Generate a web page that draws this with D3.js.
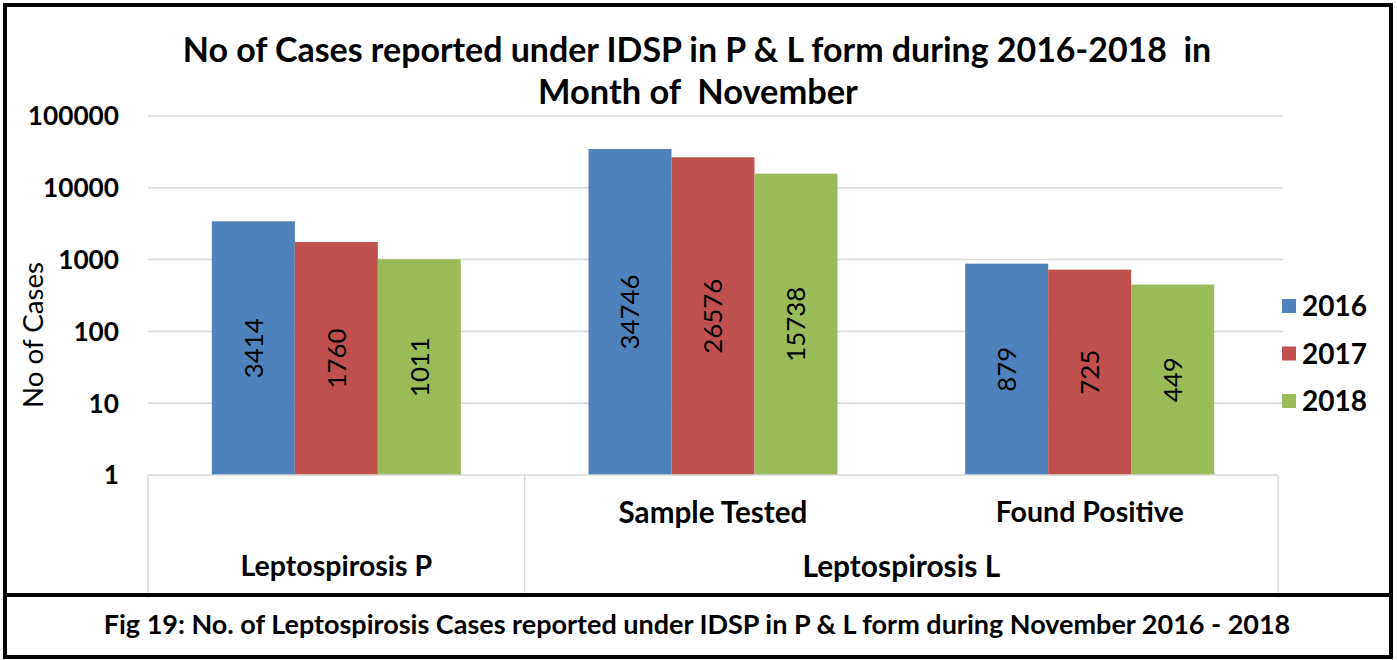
<!DOCTYPE html>
<html>
<head>
<meta charset="utf-8">
<script src="https://cdn.jsdelivr.net/npm/d3@7.9.0/dist/d3.min.js"></script>
<style>
  body { margin: 0; background: #fff; }
  text { font-family: Lato, "Open Sans", sans-serif; fill: #000; }
</style>
</head>
<body>
<div id="chart"></div>
<script>
// data
const categories = ['Leptospirosis P', 'Sample Tested', 'Found Positive'];
const groupLabels = ['', 'Sample Tested', 'Found Positive'];
const topGroups = [
  { name: 'Leptospirosis P', from: 0, to: 1 },
  { name: 'Leptospirosis L', from: 1, to: 3 }
];
const years = ['2016', '2017', '2018'];
const values2016 = [3414, 34746, 879];
const values2017 = [1760, 26576, 725];
const values2018 = [1011, 15738, 449];
const yTicks = [1, 10, 100, 1000, 10000, 100000];
const colors = ['#4f81bd', '#c0504d', '#9bbb59'];

const series = [values2016, values2017, values2018];

const width = 1397;
const height = 660;

const svg = d3.select('#chart')
  .append('svg')
  .attr('width', width)
  .attr('height', height);

// shrink or grow a text so it takes the width seen in the picture
function fit(sel, w) {
  sel.each(function () {
    const len = this.getComputedTextLength();
    const fs = parseFloat(this.getAttribute('font-size'));
    if (len > 0) this.setAttribute('font-size', fs * w / len);
  });
  return sel;
}

// same idea, but by width per character (digits)
function fitPerChar(sel, perChar) {
  sel.each(function () {
    const n = this.textContent.length;
    const len = this.getComputedTextLength();
    const fs = parseFloat(this.getAttribute('font-size'));
    if (len > 0) this.setAttribute('font-size', fs * (perChar * n) / len);
  });
  return sel;
}

// plot area
const plotLeft = 148, plotRight = 1278, plotTop = 116, plotBottom = 475;

const x0 = d3.scaleBand()
  .domain(categories)
  .range([plotLeft, plotRight])
  .paddingInner(0.339)
  .paddingOuter(0.1695);

const x1 = d3.scaleBand()
  .domain(years)
  .range([0, x0.bandwidth()]);

const y = d3.scaleLog()
  .domain([1, 100000])
  .range([plotBottom, plotTop]);

// gridlines
svg.append('g')
  .selectAll('line')
  .data(yTicks.slice(1))
  .join('line')
  .attr('x1', plotLeft)
  .attr('x2', plotRight + 5)
  .attr('y1', d => y(d))
  .attr('y2', d => y(d))
  .attr('stroke', '#d9d9d9')
  .attr('stroke-width', 1.5);

// y tick labels
fitPerChar(svg.append('g')
  .selectAll('text')
  .data(yTicks)
  .join('text')
  .attr('x', 119)
  .attr('y', d => y(d))
  .attr('dy', '0.36em')
  .attr('text-anchor', 'end')
  .attr('font-size', 24)
  .attr('font-weight', 'bold')
  .text(d => d), 15.2);

// y axis title
fit(svg.append('text')
  .attr('transform', 'translate(43,335) rotate(-90)')
  .attr('text-anchor', 'middle')
  .attr('font-size', 24)
  .text('No of Cases'), 146);

// bars
const groups = svg.append('g')
  .selectAll('g')
  .data(categories)
  .join('g')
  .attr('transform', d => `translate(${x0(d)},0)`);

const cells = (d, i) => years.map((yr, j) => ({ yr, j, v: series[j][i] }));

groups.selectAll('rect')
  .data(cells)
  .join('rect')
  .attr('x', d => x1(d.yr))
  .attr('y', d => y(d.v))
  .attr('width', x1.bandwidth())
  .attr('height', d => y(1) - y(d.v))
  .attr('fill', d => colors[d.j]);

fitPerChar(groups.selectAll('text')
  .data(cells)
  .join('text')
  .attr('transform', d => `translate(${x1(d.yr) + x1.bandwidth() / 2},${(y(d.v) + y(1)) / 2}) rotate(-90)`)
  .attr('text-anchor', 'middle')
  .attr('dy', '0.36em')
  .attr('font-size', 26)
  .text(d => d.v), 15);

// category axis
const axisColor = '#d9d9d9';
svg.append('line')
  .attr('x1', plotLeft).attr('x2', plotRight)
  .attr('y1', plotBottom).attr('y2', plotBottom)
  .attr('stroke', axisColor).attr('stroke-width', 1.5);

const step = x0.step();
svg.append('g')
  .selectAll('line')
  .data([0, 1, 3])
  .join('line')
  .attr('x1', k => plotLeft + k * step).attr('x2', k => plotLeft + k * step)
  .attr('y1', plotBottom).attr('y2', 594)
  .attr('stroke', axisColor).attr('stroke-width', 1.5);

const subWidths = [0, 189, 188];
svg.append('g')
  .selectAll('text')
  .data(groupLabels)
  .join('text')
  .attr('x', (d, i) => x0(categories[i]) + x0.bandwidth() / 2)
  .attr('y', 512)
  .attr('dy', '0.36em')
  .attr('text-anchor', 'middle')
  .attr('font-size', 24)
  .attr('font-weight', 'bold')
  .text(d => d)
  .each(function (d, i) {
    if (d) fit(d3.select(this), subWidths[i]);
  });

const topWidths = [192, 198];
svg.append('g')
  .selectAll('text')
  .data(topGroups)
  .join('text')
  .attr('x', d => plotLeft + (d.from + d.to) / 2 * step)
  .attr('y', 566)
  .attr('dy', '0.36em')
  .attr('text-anchor', 'middle')
  .attr('font-size', 24)
  .attr('font-weight', 'bold')
  .text(d => d.name)
  .each(function (d, i) { fit(d3.select(this), topWidths[i]); });

// legend
const legend = svg.append('g')
  .selectAll('g')
  .data(years)
  .join('g')
  .attr('transform', (d, i) => `translate(1282,${306 + i * 47.5})`);

legend.append('rect')
  .attr('x', 0).attr('y', -7)
  .attr('width', 14).attr('height', 14)
  .attr('fill', (d, i) => colors[i]);

fit(legend.append('text')
  .attr('x', 20)
  .attr('dy', '0.36em')
  .attr('font-size', 24)
  .attr('font-weight', 'bold')
  .text(d => d), 65);

// title
fit(svg.append('text')
  .attr('x', 697).attr('y', 50)
  .attr('dy', '0.36em')
  .attr('text-anchor', 'middle')
  .attr('font-size', 28)
  .attr('font-weight', 'bold')
  .style('white-space', 'pre')
  .text('No of Cases reported under IDSP in P & L form during 2016-2018  in'), 1029);

fit(svg.append('text')
  .attr('x', 698).attr('y', 92)
  .attr('dy', '0.36em')
  .attr('text-anchor', 'middle')
  .attr('font-size', 28)
  .attr('font-weight', 'bold')
  .style('white-space', 'pre')
  .text('Month of  November'), 320);

// caption
fit(svg.append('text')
  .attr('x', 697).attr('y', 624)
  .attr('dy', '0.36em')
  .attr('text-anchor', 'middle')
  .attr('font-size', 26)
  .attr('font-weight', 'bold')
  .text('Fig 19: No. of Leptospirosis Cases reported under IDSP in P & L form during November 2016 - 2018'), 1187);

// frame
svg.append('rect')
  .attr('x', 5).attr('y', 5)
  .attr('width', 1386).attr('height', 652)
  .attr('fill', 'none')
  .attr('stroke', '#000')
  .attr('stroke-width', 4);

svg.append('line')
  .attr('x1', 5).attr('x2', 1391)
  .attr('y1', 595).attr('y2', 595)
  .attr('stroke', '#000')
  .attr('stroke-width', 4);
</script>
</body>
</html>
